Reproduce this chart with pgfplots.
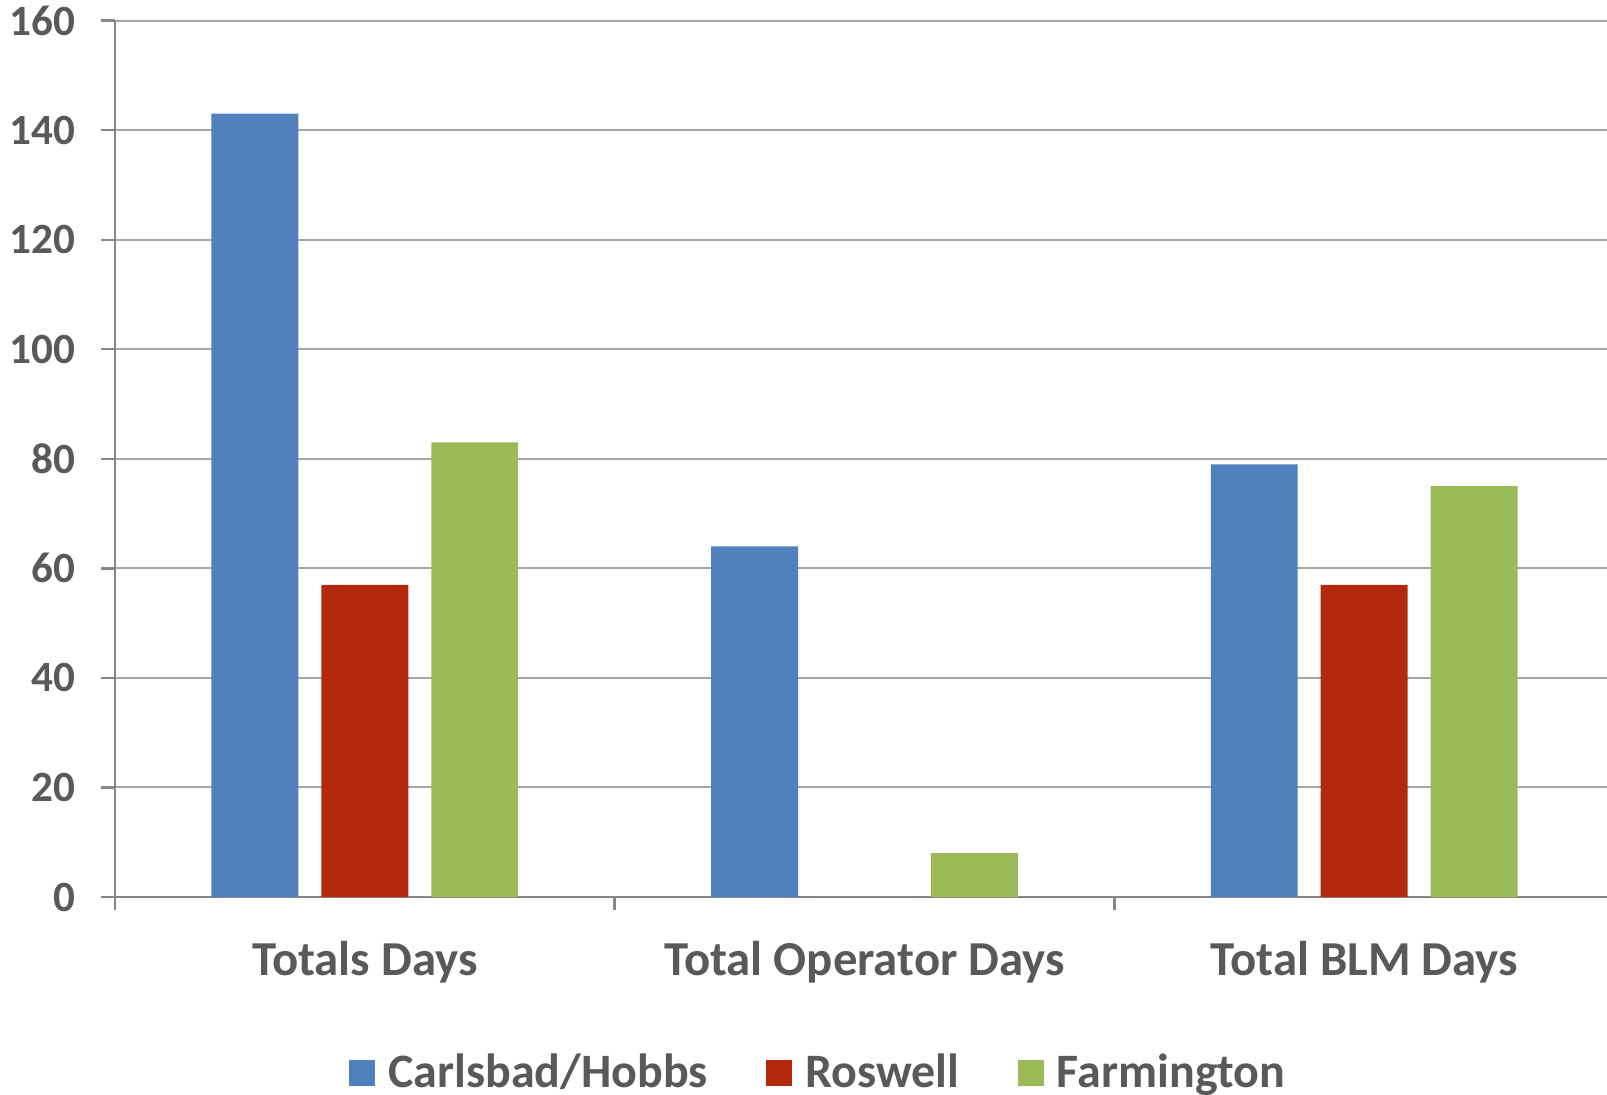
\documentclass[border=0pt]{standalone}
\usepackage{fontspec}
\setmainfont{Carlito}
\usepackage{pgfplots}
\pgfplotsset{compat=1.18}
\definecolor{cblue}{HTML}{4F81BD}
\definecolor{cred}{HTML}{B3290E}
\definecolor{cgreen}{HTML}{9BBB59}
\definecolor{ctext}{HTML}{595959}
\definecolor{cgrid}{HTML}{A6A6A6}
\definecolor{caxis}{HTML}{878787}
\begin{document}
\begin{tikzpicture}
\begin{axis}[
  scale only axis,
  width=373pt, height=219.1pt,
  xmin=-0.5, xmax=2.486,
  ymin=0, ymax=160,
  ytick={0,20,...,160},
  xtick={0,1,2},
  xticklabels={Totals Days, Total Operator Days, Total BLM Days},
  minor xtick={-0.5,0.5,1.5},
  axis x line=bottom, axis y line=left,
  axis line style={-, draw=caxis, line width=0.6pt},
  ymajorgrids,
  grid style={draw=cgrid, line width=0.5pt},
  tick align=outside,
  major tick length=3.5pt,
  minor tick length=3.3pt,
  major x tick style={draw=none},
  minor x tick style={draw=caxis, line width=0.6pt},
  major y tick style={draw=caxis, line width=0.6pt},
  /pgf/number format/assume math mode=true,
  yticklabel style={font=\fontsize{10.8}{12}\selectfont\bfseries, text=ctext, anchor=east, inner sep=0pt, xshift=-6.3pt},
  xticklabel style={font=\fontsize{12.2}{14}\selectfont\bfseries, text=ctext, anchor=base, inner sep=0pt, yshift=-16pt},
  bar width=0.174,
  legend columns=3,
  legend style={draw=none, fill=none, at={(0.4750,-0.2010)}, anchor=center,
    font=\fontsize{12.0}{14}\selectfont\bfseries, text=ctext,
    nodes={inner xsep=3.3pt, inner ysep=0pt},
    /tikz/every even column/.append style={column sep=11.3pt}},
  legend image code/.code={\fill[#1] (0pt,-3.25pt) rectangle (6.5pt,3.25pt);},
]
\addplot[ybar, bar shift=-0.22, fill=cblue, draw=none] coordinates {(0,143) (1,64) (2,79)};
\addplot[ybar, bar shift=0, fill=cred, draw=none] coordinates {(0,57) (1,0) (2,57)};
\addplot[ybar, bar shift=0.22, fill=cgreen, draw=none] coordinates {(0,83) (1,8) (2,75)};
\legend{Carlsbad/Hobbs, Roswell, Farmington}
\end{axis}
\pgfresetboundingbox
\path[use as bounding box] (-28.75pt,-49.25pt) rectangle (373pt,224.25pt);
\end{tikzpicture}
\end{document}
